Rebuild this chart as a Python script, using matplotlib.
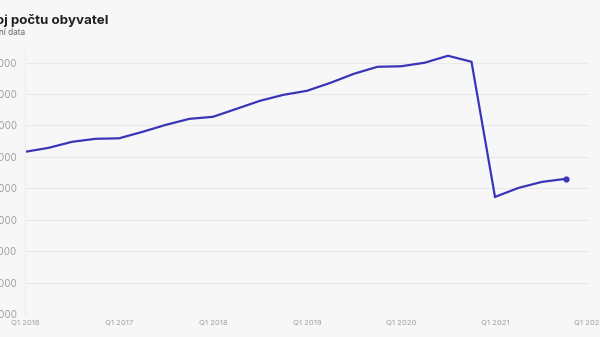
import numpy as np
import matplotlib.pyplot as plt
from matplotlib.ticker import FuncFormatter

plt.rcParams['font.family'] = ['Inter', 'DejaVu Sans']

# Quarterly population (Q1 2016 .. Q4 2021)
quarters = np.arange(24)
population = [10558000, 10564300, 10573900, 10578700,
              10579500, 10589800, 10601000, 10610500,
              10613700, 10626400, 10639200, 10648700,
              10655100, 10667800, 10682200, 10693300,
              10694100, 10699700, 10710800, 10701300,
              10486300, 10500600, 10510200, 10515000]
year_ticks = [0, 4, 8, 12, 16, 20, 24]
year_labels = ["Q1 2016", "Q1 2017", "Q1 2018", "Q1 2019",
               "Q1 2020", "Q1 2021", "Q1 2022"]
y_ticks = np.arange(10300000, 10700001, 50000)

bg = "#f7f7f7"
fig = plt.figure(figsize=(6, 3.37), dpi=100, facecolor=bg)
ax = fig.add_axes([25/600, 23/337, 564/600, 264/337], facecolor=bg)

ax.plot(quarters, population, color="#3a35b8", linewidth=1.6, solid_joinstyle="miter")
ax.plot(quarters[-1], population[-1], "o", color="#3a35b8", markersize=3.5)

ax.set_xlim(0, 24)
ax.set_ylim(10300000, 10720000)
ax.set_xticks(year_ticks)
ax.set_xticklabels(year_labels)
ax.set_yticks(y_ticks)
ax.yaxis.set_major_formatter(FuncFormatter(lambda v, p: f"{int(v):,}".replace(",", " ")))

ax.grid(axis="y", color="#e9e9e9", linewidth=0.8)
for s in ["top", "right", "bottom"]:
    ax.spines[s].set_visible(False)
ax.spines["left"].set_color("#ececec")
ax.spines["left"].set_linewidth(0.8)
ax.tick_params(axis="y", length=0, pad=6, labelsize=7, labelcolor="#a0a0a0")
ax.tick_params(axis="x", length=0, pad=4, labelsize=5.5, labelcolor="#a0a0a0")

fig.text(108/600, 1 - 24/337, "Vývoj počtu obyvatel", ha="right", va="baseline",
         fontsize=9.6, fontweight="bold", color="#222222")
fig.text(25/600, 1 - 35/337, "Čtvrtletní data", ha="right", va="baseline",
         fontsize=6, color="#666666")

fig.savefig("out.png", dpi=100, facecolor=bg)
